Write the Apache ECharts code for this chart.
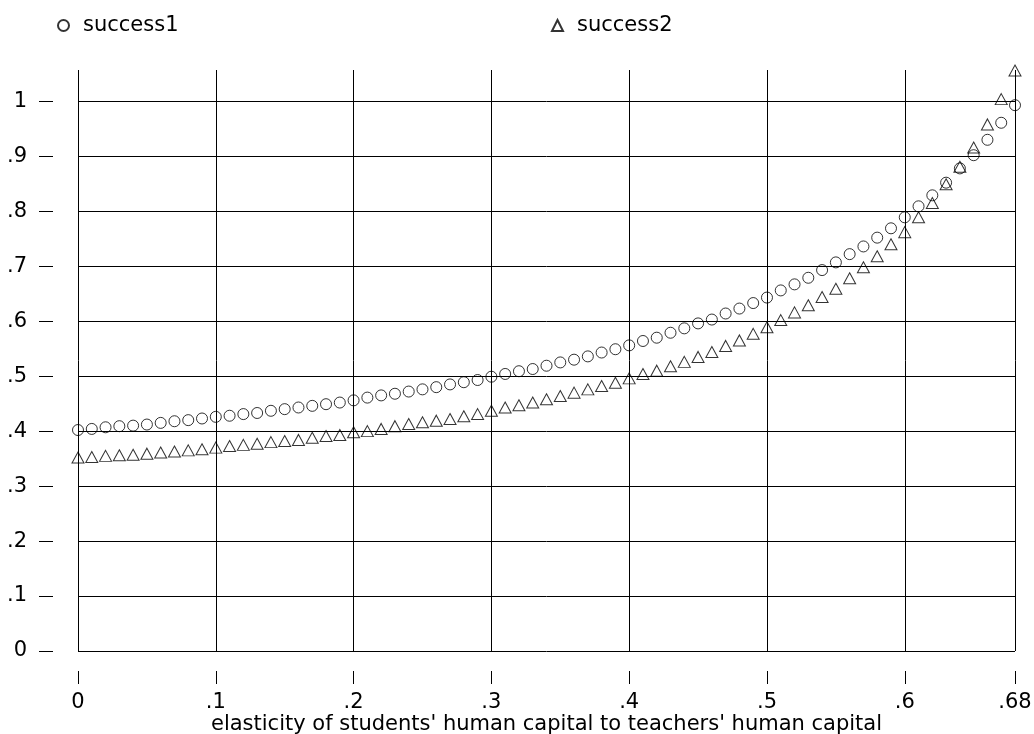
<!DOCTYPE html>
<html>
<head>
<meta charset="utf-8">
<script src="https://cdn.jsdelivr.net/npm/echarts@6/dist/echarts.min.js"></script>
<style>
html,body{margin:0;padding:0;background:#fff;}
#chart{width:1034px;height:734px;}
</style>
</head>
<body>
<div id="chart"></div>
<script>
// x values (elasticity)
const xValues = [0.00,0.01,0.02,0.03,0.04,0.05,0.06,0.07,0.08,0.09,
  0.10,0.11,0.12,0.13,0.14,0.15,0.16,0.17,0.18,0.19,
  0.20,0.21,0.22,0.23,0.24,0.25,0.26,0.27,0.28,0.29,
  0.30,0.31,0.32,0.33,0.34,0.35,0.36,0.37,0.38,0.39,
  0.40,0.41,0.42,0.43,0.44,0.45,0.46,0.47,0.48,0.49,
  0.50,0.51,0.52,0.53,0.54,0.55,0.56,0.57,0.58,0.59,
  0.60,0.61,0.62,0.63,0.64,0.65,0.66,0.67,0.68];

const success1 = [0.402,0.404,0.407,0.409,0.410,0.412,0.415,0.418,0.420,0.423,
  0.426,0.428,0.431,0.433,0.437,0.440,0.443,0.446,0.449,0.452,
  0.456,0.461,0.465,0.468,0.472,0.476,0.480,0.485,0.489,0.493,
  0.499,0.504,0.509,0.513,0.519,0.525,0.530,0.536,0.543,0.549,
  0.556,0.564,0.570,0.579,0.587,0.596,0.603,0.614,0.623,0.633,
  0.643,0.656,0.667,0.679,0.693,0.707,0.722,0.736,0.752,0.769,
  0.789,0.809,0.829,0.852,0.878,0.902,0.930,0.961,0.993];

const success2 = [0.352,0.353,0.355,0.356,0.357,0.359,0.361,0.363,0.365,0.367,
  0.370,0.373,0.375,0.377,0.380,0.382,0.384,0.388,0.391,0.393,
  0.398,0.400,0.404,0.409,0.413,0.416,0.419,0.422,0.427,0.431,
  0.437,0.443,0.447,0.452,0.458,0.464,0.470,0.476,0.482,0.488,
  0.496,0.504,0.510,0.518,0.526,0.535,0.544,0.555,0.565,0.577,
  0.589,0.602,0.616,0.629,0.644,0.659,0.678,0.698,0.718,0.740,
  0.762,0.789,0.815,0.849,0.881,0.916,0.958,1.004,1.056];

const xTicks = [0, 0.1, 0.2, 0.3, 0.4, 0.5, 0.6, 0.68];
const yTicks = [0, 0.1, 0.2, 0.3, 0.4, 0.5, 0.6, 0.7, 0.8, 0.9, 1];

const seriesNames = ['success1', 'success2'];
const xTitle = "elasticity of students' human capital to teachers' human capital";

const FONT = 'DejaVu Sans';
const FS = 21;

function fmt(v) {
  const s = String(+(+v).toFixed(2));
  return s.replace(/^0\./, '.');
}

const chart = echarts.init(document.getElementById('chart'), null, {renderer: 'canvas'});

const markerStyle = {color: 'rgba(0,0,0,0)', borderColor: '#000', borderWidth: 1};
const legendText = {fontFamily: FONT, fontSize: FS, color: '#000', padding: [0, 0, 0, 9]};

chart.setOption({
  animation: false,
  backgroundColor: '#fff',
  textStyle: {fontFamily: FONT, color: '#000'},
  legend: [
    {data: [seriesNames[0]], left: 52, top: 10, itemWidth: 11, itemHeight: 11,
     textStyle: legendText, selectedMode: false},
    {data: [seriesNames[1]], left: 546, top: 10, itemWidth: 11, itemHeight: 11,
     textStyle: legendText, selectedMode: false}
  ],
  grid: {left: 78, right: 19, top: 70, bottom: 83, containLabel: false, outerBoundsMode: 'none'},
  xAxis: {
    type: 'value', min: 0, max: 0.68,
    offset: 20,
    name: xTitle, nameLocation: 'middle', nameGap: 43, nameMoveOverlap: false,
    nameTextStyle: {fontFamily: FONT, fontSize: FS, color: '#000'},
    axisLine: {show: false, onZero: false},
    axisTick: {show: true, length: 13, customValues: xTicks, lineStyle: {color: '#000', width: 1}},
    axisLabel: {customValues: xTicks, margin: 21, fontFamily: FONT, fontSize: FS, color: '#000', formatter: fmt},
    splitLine: {show: true, lineStyle: {color: '#000', width: 1}}
  },
  yAxis: {
    type: 'value', min: 0, max: 1.057,
    offset: 25,
    axisLine: {show: false, onZero: false},
    axisTick: {show: true, length: 14, customValues: yTicks, lineStyle: {color: '#000', width: 1}},
    axisLabel: {customValues: yTicks, margin: 26, fontFamily: FONT, fontSize: FS, color: '#000', formatter: fmt},
    splitLine: {show: true, lineStyle: {color: '#000', width: 1}}
  },
  series: [
    {
      name: seriesNames[0], type: 'scatter', symbol: 'circle', symbolSize: 11,
      itemStyle: markerStyle,
      data: xValues.map((x, i) => [x, success1[i]])
    },
    {
      name: seriesNames[1], type: 'scatter', symbol: 'triangle', symbolSize: [12, 11],
      itemStyle: markerStyle,
      data: xValues.map((x, i) => [x, success2[i]])
    }
  ]
});
</script>
</body>
</html>
